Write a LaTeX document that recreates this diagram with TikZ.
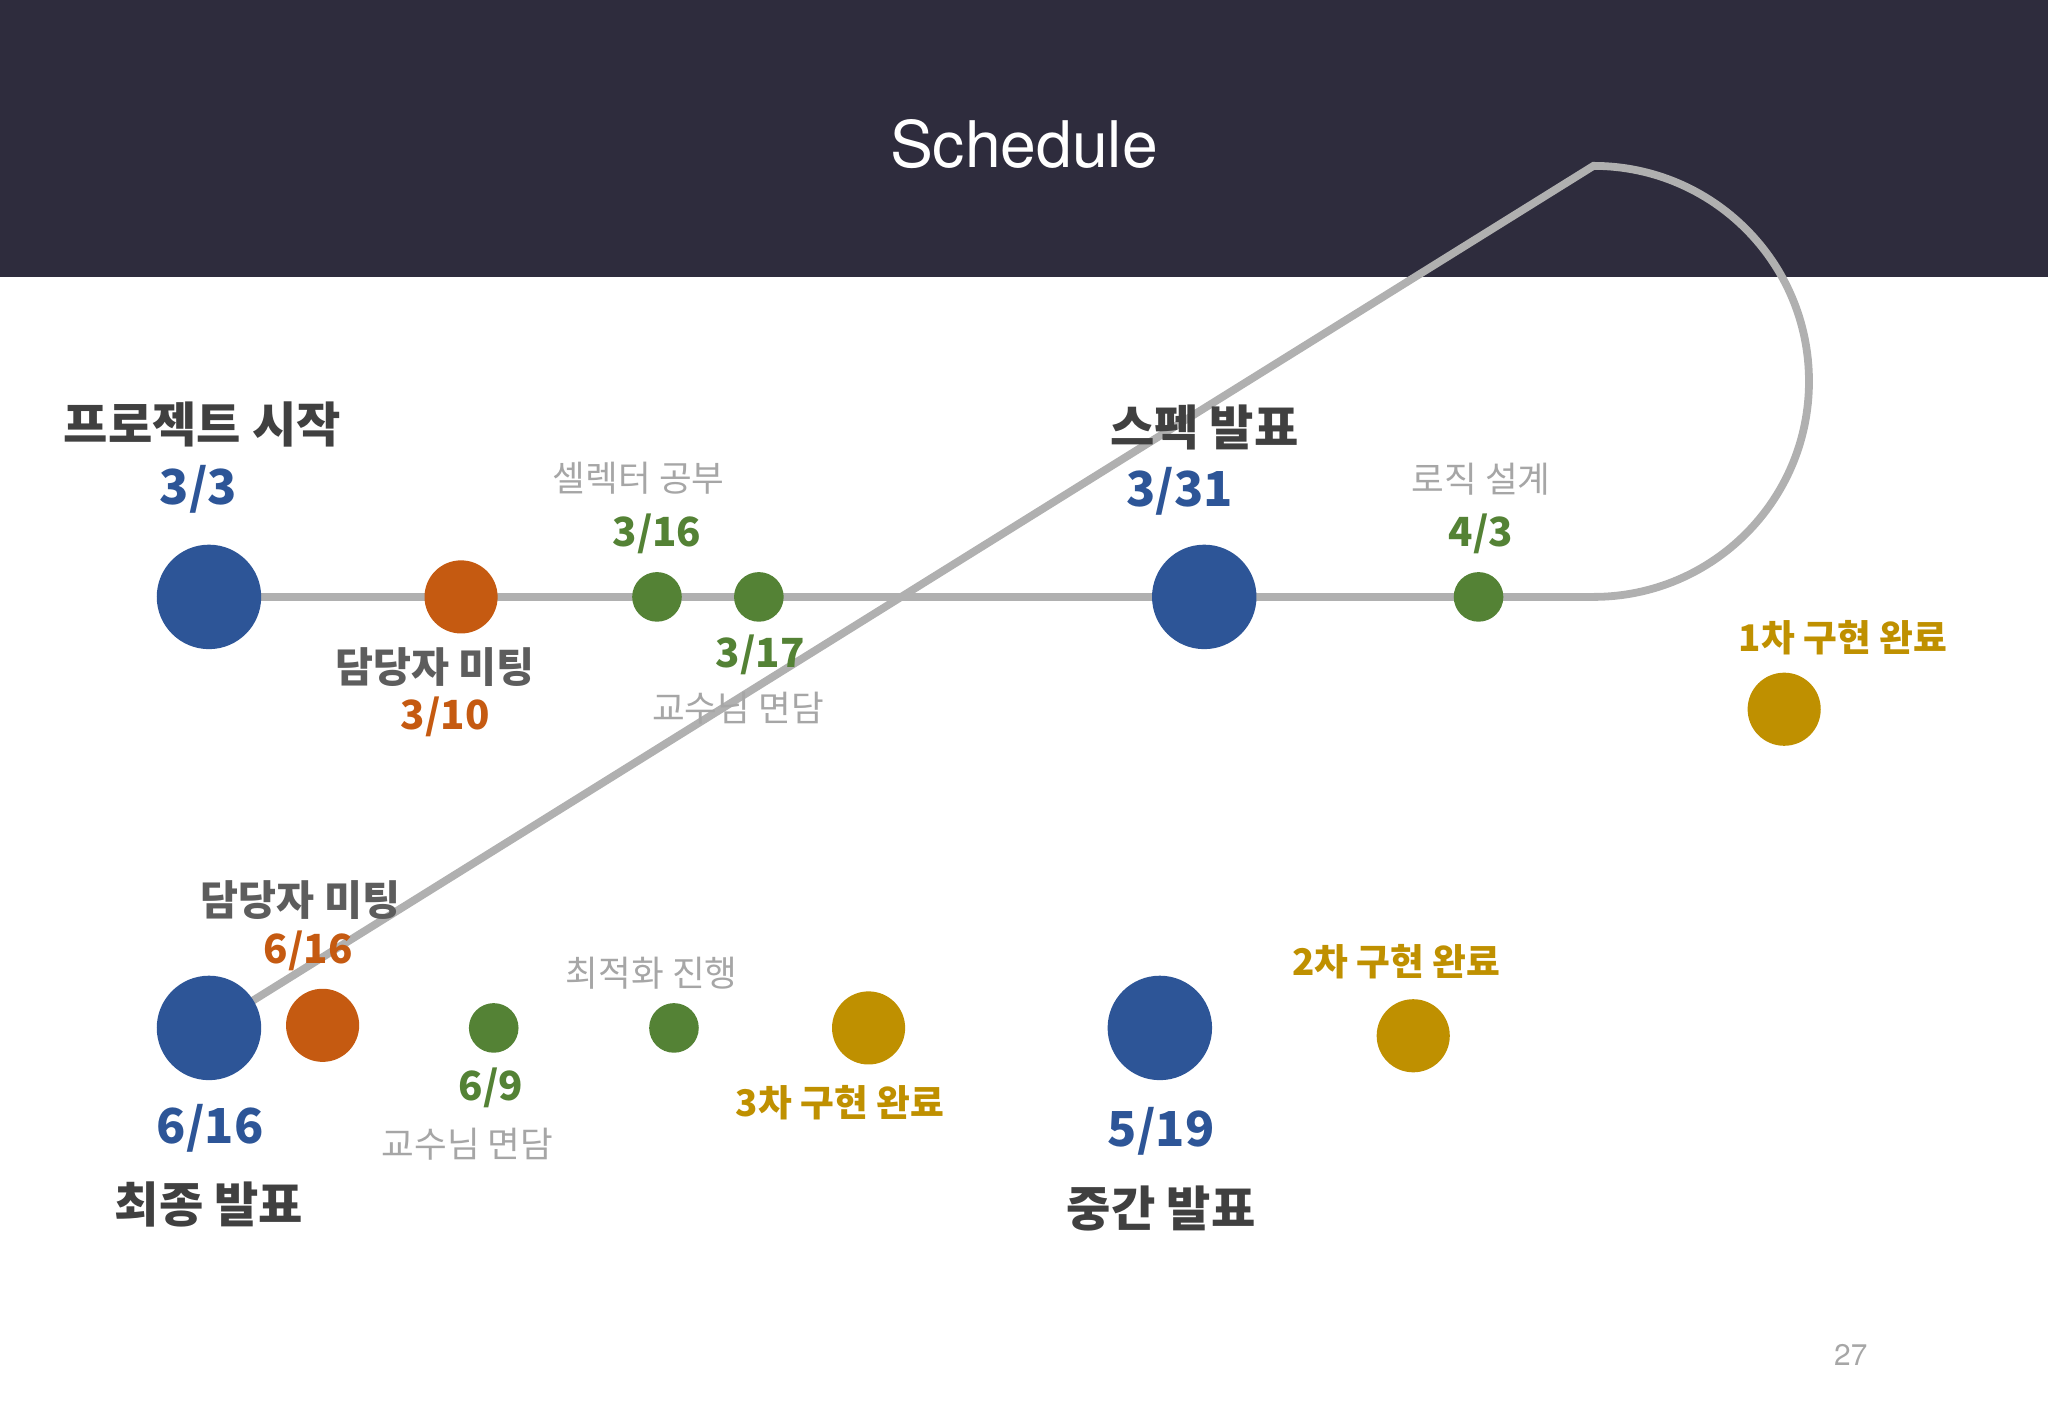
\documentclass[tikz,border=0pt]{standalone}
\usepackage{fontspec}
\setmainfont{Noto Sans CJK KR}
\newfontfamily\hd{TeX Gyre Heros}
\begin{document}
\begin{tikzpicture}[x=0.02cm,y=-0.02cm,
  big/.style={circle,fill=cblue,minimum size=1.6cm,inner sep=0},
  mid/.style={circle,minimum size=1.12cm,inner sep=0},
  sml/.style={circle,fill=cgreen,minimum size=0.76cm,inner sep=0},
  ttl/.style={text=cdark,font=\fontsize{21}{24}\selectfont\bfseries},
  dt/.style={font=\fontsize{21}{24}\selectfont\bfseries},
  lb/.style={text=cgray,font=\fontsize{15.5}{18}\selectfont},
  sd/.style={font=\fontsize{17.5}{20}\selectfont\bfseries},
  gl/.style={text=cgold,font=\fontsize{16}{19}\selectfont\bfseries},
  ln/.style={draw=cline,line width=3.4pt}]
\definecolor{cblue}{HTML}{2D5597}
\definecolor{corange}{HTML}{C55A11}
\definecolor{cgreen}{HTML}{548235}
\definecolor{cgold}{HTML}{BF9000}
\definecolor{cgray}{HTML}{A6A6A6}
\definecolor{cdark}{HTML}{404040}
\definecolor{cline}{HTML}{B0B0B0}
\definecolor{chead}{HTML}{2E2C3D}
\useasboundingbox (0,0) rectangle (1568,1085.6);
\fill[chead] (0,0) rectangle (1568,212);
\node[text=white,font=\hd\fontsize{28}{32}\selectfont] (title) at (784,110) {Schedule};
% line
\coordinate (tr) at (1220,457);
\coordinate (br) at (1228,787);
\draw[ln] (160,457) -- (tr) arc[start angle=90,end angle=-90,radius=165] -- (160,787);
% nodes
\node[big] (a) at (160,457) {};
\node[mid,fill=corange] (b) at (353,457) {};
\node[sml] (c) at (503,457) {};
\node[sml] (d) at (581,457) {};
\node[big] (e) at (922,457) {};
\node[sml] (f) at (1132,457) {};
\node[mid,fill=cgold] (g) at (1366,543) {};
\node[mid,fill=cgold] (h) at (1082,793) {};
\node[big] (i) at (888,787) {};
\node[mid,fill=cgold] (j) at (665,787) {};
\node[sml] (k) at (516,787) {};
\node[sml] (l) at (378,787) {};
\node[mid,fill=corange] (m) at (247,785) {};
\node[big] (n) at (160,787) {};
% labels
\node[ttl] at (155,325) {프로젝트 시작};
\node[dt,text=cblue] at (152,375) {3/3};
\node[lb] at (489,366) {셀렉터 공부};
\node[sd,text=cgreen] at (503,409) {3/16};
\node[ttl,text=cdark!85,font=\fontsize{18}{21}\selectfont\bfseries] at (333,511) {담당자 미팅};
\node[sd,text=corange] at (341,549) {3/10};
\node[sd,text=cgreen] at (582,501) {3/17};
\node[lb] at (565,542) {교수님 면담};
\node[ttl] at (922,327) {스펙 발표};
\node[dt,text=cblue] at (903,376) {3/31};
\node[lb] at (1134,367) {로직 설계};
\node[sd,text=cgreen] at (1134,409) {4/3};
\node[gl] at (1411,488) {1차 구현 완료};
\node[ttl,text=cdark!85,font=\fontsize{18}{21}\selectfont\bfseries] at (230,689) {담당자 미팅};
\node[sd,text=corange] at (236,728) {6/16};
\node[lb] at (499,745) {최적화 진행};
\node[sd,text=cgreen] at (376,833) {6/9};
\node[lb] at (358,876) {교수님 면담};
\node[gl] at (643,844) {3차 구현 완료};
\node[gl] at (1069,736) {2차 구현 완료};
\node[dt,text=cblue] at (161,864) {6/16};
\node[ttl] at (160,922) {최종 발표};
\node[dt,text=cblue] at (889,866) {5/19};
\node[ttl] at (889,925) {중간 발표};
\node[text=cgray,font=\hd\fontsize{13}{15}\selectfont] at (1417,1037) {27};
\end{tikzpicture}
\end{document}
